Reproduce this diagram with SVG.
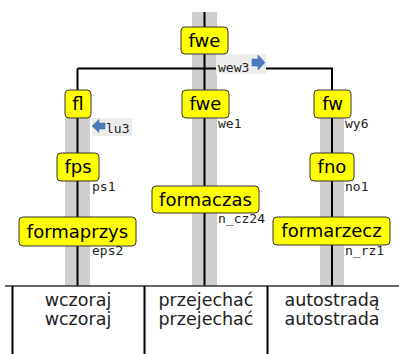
<svg xmlns="http://www.w3.org/2000/svg" width="399" height="354" viewBox="0 0 399 354">
<defs>
<style>
.band{fill:#cfcfcf}
.spine{stroke:#000;stroke-width:2;fill:none}
.box rect{fill:#ffff00;stroke:#333;stroke-width:1}
.box text{font-family:"DejaVu Sans",sans-serif;font-size:18px;fill:#000;text-anchor:middle}
.lbl{font-family:"DejaVu Sans Mono",monospace;font-size:13px;fill:#222}
.lblbg{fill:#ececec}
.arrow{fill:#4a7bbf;stroke:#3a65a0;stroke-width:0.5}
.cell{font-family:"DejaVu Sans",sans-serif;font-size:17.5px;fill:#222;text-anchor:middle}
.tline{stroke:#000;stroke-width:2}
</style>
</defs>
<rect width="399" height="354" fill="#fff"/>
<g id="bands">
<rect class="band" x="192" y="12" width="25" height="274"/>
<rect class="band" x="65" y="118" width="25" height="168"/>
<rect class="band" x="320" y="118" width="24" height="168"/>
</g>
<g id="connectors">
<path class="spine" d="M204.5 12V286"/>
<path class="spine" d="M77.5 68.5H332V286"/>
<path class="spine" d="M77.5 68.5V286"/>
</g>
<g id="edge-labels">
<rect class="lblbg" x="216" y="54" width="50" height="20"/>
<text class="lbl" x="218" y="72">wew3</text>
<path class="arrow" d="M252 59H258V55L265 62.5L258 70V66H252Z"/>
<rect class="lblbg" x="92" y="118" width="40" height="18"/>
<text class="lbl" x="106" y="133">lu3</text>
<path class="arrow" d="M105 123H99V119.5L92 126L99 132.5V129H105Z"/>
<text class="lbl" x="218" y="128">we1</text>
<text class="lbl" x="345" y="128">wy6</text>
<text class="lbl" x="92" y="191">ps1</text>
<text class="lbl" x="345" y="191">no1</text>
<text class="lbl" x="218" y="223">n_cz24</text>
<text class="lbl" x="92" y="255">eps2</text>
<text class="lbl" x="345" y="255">n_rz1</text>
</g>
<g id="n-fwe-top" class="box"><rect x="181" y="27" width="47" height="27" rx="4"/><text x="204.5" y="47">fwe</text></g>
<g id="n-fl" class="box"><rect x="65" y="90" width="26" height="28" rx="4"/><text x="78" y="110">fl</text></g>
<g id="n-fwe-mid" class="box"><rect x="182" y="90" width="47" height="28" rx="4"/><text x="205.5" y="110">fwe</text></g>
<g id="n-fw" class="box"><rect x="314" y="90" width="37" height="28" rx="4"/><text x="332.5" y="110">fw</text></g>
<g id="n-fps" class="box"><rect x="57" y="153" width="42" height="28" rx="4"/><text x="78" y="173">fps</text></g>
<g id="n-fno" class="box"><rect x="310" y="153" width="44" height="28" rx="4"/><text x="332" y="173">fno</text></g>
<g id="n-formaczas" class="box"><rect x="152" y="186" width="107" height="27" rx="4"/><text x="205.5" y="206">formaczas</text></g>
<g id="n-formaprzys" class="box"><rect x="19" y="217" width="117" height="29" rx="4"/><text x="77.5" y="238">formaprzys</text></g>
<g id="n-formarzecz" class="box"><rect x="273" y="217" width="117" height="28" rx="4"/><text x="331.5" y="237">formarzecz</text></g>
<g id="table">
<path d="M5 286H399" stroke="#333" stroke-width="1.5"/>
<path class="tline" d="M12.5 286V354M144.5 286V354M267.5 286V354"/>
<text class="cell" x="78" y="306">wczoraj</text>
<text class="cell" x="78" y="325">wczoraj</text>
<text class="cell" x="206" y="306">przejechać</text>
<text class="cell" x="206" y="325">przejechać</text>
<text class="cell" x="332" y="306">autostradą</text>
<text class="cell" x="332" y="325">autostrada</text>
</g>
</svg>
